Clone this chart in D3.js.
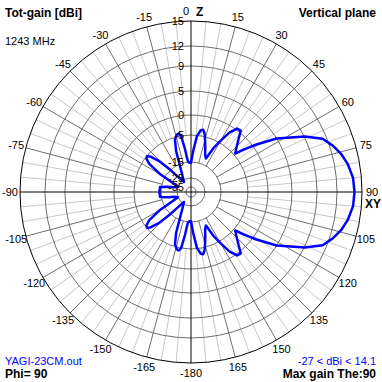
<!DOCTYPE html>
<html><head><meta charset="utf-8">
<script src="https://cdn.jsdelivr.net/npm/d3@7"></script>
<style>html,body{margin:0;padding:0;background:#fff}svg{display:block}</style>
</head><body>
<script>
// ---- data ----
const ringLevels = [15, 12, 9, 5, 0, -5, -15, -25, -35];
const ringLabels = ["15", "12", "9", "5", "0", "-5", "-15", "-25", "-35"];
const angleTicks = [0, 15, 30, 45, 60, 75, 90, 105, 120, 135, 150, 165, 180, -165, -150, -135, -120, -105, -90, -75, -60, -45, -30, -15];
const angleLabels = ["0", "15", "30", "45", "60", "75", "90", "105", "120", "135", "150", "165", "-180", "-165", "-150", "-135", "-120", "-105", "-90", "-75", "-60", "-45", "-30", "-15"];
const thetaDeg = [-180,-177,-174,-172,-170,-168,-166,-163,-160,-156,-150,-145,-140,-137,-134,-131,-129,-127,-124,-120,-117,-112,-106,-103,-99,
  -90,-81,-77,-74,-68,-63,-60,-56,-53,-51,-49,-46,-43,-40,-35,-30,-24,-20,-17,-14,-12,-10,-8,-6,-3,
  0,3,6,9,11,13,15,18,21,24,27,30,33,36,39,42,46,49,51,54,58,64,68,72,76,80,85,
  90,95,100,104,108,112,116,122,126,129,131,134,138,141,144,147,150,153,156,159,162,165,167,169,171,174,177];
const gainDbi = [-15.5,-15.5,-14.5,-10,-5,-4.3,-4.5,-5.8,-10,-18,-24,-27,-22,-15,-9.5,-6,-5.1,-5.4,-7.5,-13,-20,-25,-23,-19,-14.5,
  -14.4,-14.5,-19,-23,-25,-20,-13,-7.5,-5.4,-5.1,-6,-9.5,-15,-22,-27,-24,-18,-10,-5.8,-4.5,-4.3,-5,-10,-14.5,-15.5,
  -15.5,-11,-5.4,-3.6,-3.4,-4.2,-6,-9,-11.5,-12.5,-8,-4.5,-1.5,0.3,0.4,-1.5,-3.5,-4.6,-2.5,0.8,5,9.1,11.4,12.4,13.1,13.6,14.0,
  14.1,14.0,13.6,13.1,12.4,11.4,9.1,5,0.8,-2.5,-4.6,-3.5,-1.5,0.4,0.3,-1.5,-4.5,-8,-12.5,-11.5,-9,-6,-4.2,-3.4,-3.6,-5.4,-11];
const titleLeft = "Tot-gain [dBi]";
const freqText = "1243 MHz";
const titleRight = "Vertical plane";
const fileText = "YAGI-23CM.out";
const phiText = "Phi= 90";
const rangeText = "-27 < dBi < 14.1";
const maxText = "Max gain The:90";

// ---- layout ----
const W = 382, H = 382, cx = 191, cy = 192, R = 171;
const rScale = d3.scaleLinear()
  .domain([-35, -25, -15, -5, 0, 5, 9, 12, 15])
  .range([5, 14, 30, 57, 77, 101, 126, 146, 171])
  .clamp(true);
const rad = d => d * Math.PI / 180;
const px = (a, r) => cx + r * Math.sin(rad(a));
const py = (a, r) => cy - r * Math.cos(rad(a));

const svg = d3.select("body").append("svg").attr("width", W).attr("height", H)
  .style("font-family", "'Liberation Sans', Arial, sans-serif");

// light spokes every 5 deg
const light = d3.range(0, 360, 5).filter(a => a % 15 !== 0);
svg.append("g").selectAll("line").data(light).join("line")
  .attr("x1", a => px(a, rScale(-5))).attr("y1", a => py(a, rScale(-5)))
  .attr("x2", a => px(a, R)).attr("y2", a => py(a, R))
  .attr("stroke", "#c8c8c8").attr("stroke-width", 1);
// dark spokes every 15 deg
const dark = d3.range(0, 360, 15).filter(a => a % 90 !== 0);
svg.append("g").selectAll("line").data(dark).join("line")
  .attr("x1", a => px(a, rScale(-15))).attr("y1", a => py(a, rScale(-15)))
  .attr("x2", a => px(a, R)).attr("y2", a => py(a, R))
  .attr("stroke", "#6e6e6e").attr("stroke-width", 1);
// rings
svg.append("g").selectAll("circle").data(ringLevels.slice(1)).join("circle")
  .attr("cx", cx).attr("cy", cy).attr("r", d => rScale(d))
  .attr("fill", "none").attr("stroke", "#6e6e6e").attr("stroke-width", 1);
svg.append("circle").attr("cx", cx).attr("cy", cy).attr("r", R)
  .attr("fill", "none").attr("stroke", "#000").attr("stroke-width", 1);
// axes
svg.append("line").attr("x1", cx - R).attr("x2", cx + R).attr("y1", cy).attr("y2", cy).attr("stroke", "#000");
svg.append("line").attr("x1", cx).attr("x2", cx).attr("y1", cy - R).attr("y2", cy + R).attr("stroke", "#000");

// pattern
const pts = thetaDeg.map((t, i) => [rad(t), rScale(gainDbi[i])]);
const line = d3.lineRadial().angle(d => d[0]).radius(d => d[1]).curve(d3.curveLinearClosed);
svg.append("path").attr("transform", `translate(${cx},${cy})`)
  .attr("d", line(pts)).attr("fill", "none").attr("stroke", "#0000ff")
  .attr("stroke-width", 2.5).attr("stroke-linejoin", "round");

// ring labels
svg.append("g").selectAll("text").data(ringLevels).join("text")
  .attr("x", cx - 7).attr("y", d => cy - rScale(d) + 4)
  .attr("text-anchor", "end").attr("font-size", 11).attr("fill", "#000")
  .text((d, i) => ringLabels[i]);

// angle labels
const LR = R + 10;
svg.append("g").selectAll("text").data(angleTicks).join("text")
  .attr("x", (a, i) => a === 0 ? cx - 2 : px(a, LR))
  .attr("y", a => py(a, LR) + 4)
  .attr("text-anchor", a => a === 0 ? "end" : "middle")
  .attr("font-size", 11).attr("fill", "#000")
  .text((a, i) => angleLabels[i]);
svg.append("text").attr("x", cx + 5).attr("y", py(0, LR) + 5).attr("font-size", 12)
  .attr("font-weight", "bold").text("Z");
svg.append("text").attr("x", px(90, LR) + 1).attr("y", cy + 16).attr("font-size", 12)
  .attr("font-weight", "bold").attr("text-anchor", "middle").text("XY");

// corner texts
svg.append("text").attr("x", 5).attr("y", 17).attr("font-size", 12).attr("font-weight", "bold").text(titleLeft);
svg.append("text").attr("x", 5).attr("y", 45).attr("font-size", 11).text(freqText);
svg.append("text").attr("x", 376).attr("y", 17).attr("font-size", 12).attr("font-weight", "bold").attr("text-anchor", "end").text(titleRight);
svg.append("text").attr("x", 5).attr("y", 365).attr("font-size", 11).attr("fill", "#0000ff").text(fileText);
svg.append("text").attr("x", 5).attr("y", 378).attr("font-size", 12).attr("font-weight", "bold").text(phiText);
svg.append("text").attr("x", 376).attr("y", 365).attr("font-size", 11).attr("fill", "#0000ff").attr("text-anchor", "end").text(rangeText);
svg.append("text").attr("x", 376).attr("y", 378).attr("font-size", 12).attr("font-weight", "bold").attr("text-anchor", "end").text(maxText);
</script>
</body></html>
